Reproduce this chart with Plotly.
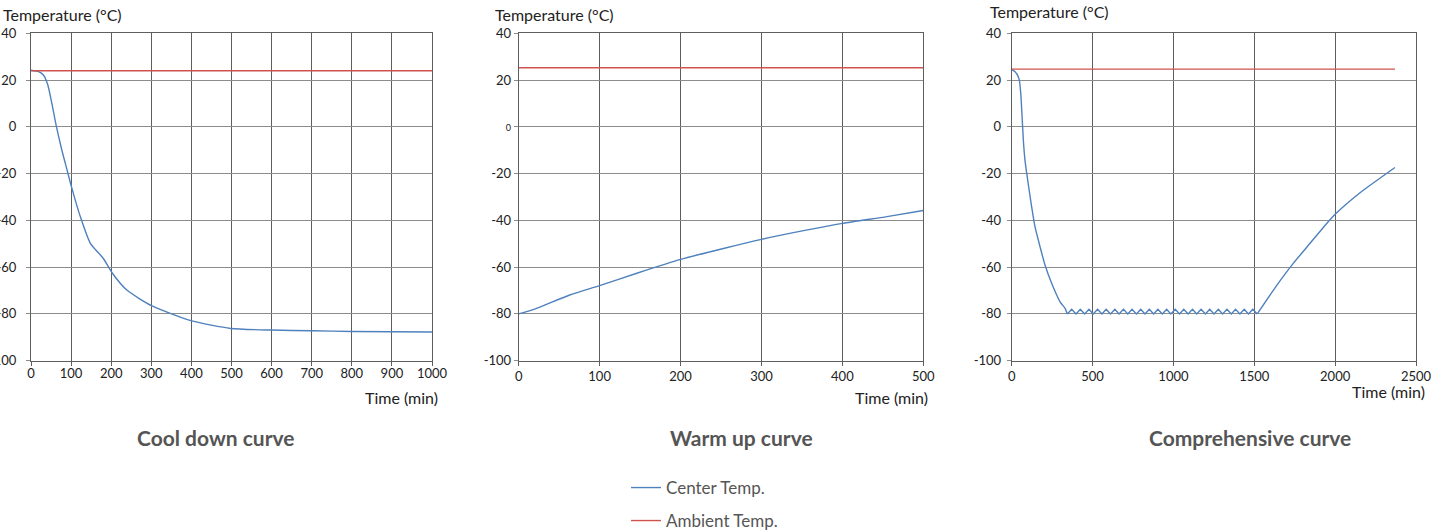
import plotly.graph_objects as go

W, H = 1431, 532

# ---------------- data ----------------
cool_time = [0, 19, 31, 42, 52, 63, 77, 90, 102, 123, 148, 180, 203, 239, 302, 401, 498, 600, 700, 800, 1000]
cool_center = [24.2, 23.6, 22.2, 17.9, 10, 0.4, -10, -18.5, -26.3, -38.4, -49.8, -56.2, -62.6, -69.8, -76.6, -83, -86.2, -86.9, -87.2, -87.5, -87.7]
cool_amb_time = [0, 1000]
cool_amb = [24, 24]

warm_time = [0, 22, 63, 100, 146, 200, 253, 300, 352, 400, 455, 500]
warm_center = [-80, -77.6, -71.9, -67.9, -62.6, -56.7, -52, -48.1, -44.4, -41.3, -38.4, -35.8]
warm_amb_time = [0, 500]
warm_amb = [25.3, 25.3]

comp_down_time = [0, 21, 35, 47, 56, 62, 72, 82, 93, 117, 144, 175, 206, 247, 299, 330, 344]
comp_down_center = [24.5, 23.6, 22.2, 20, 14.3, 7.2, -5.6, -14.2, -19.9, -31.3, -42.7, -51.2, -59.1, -66.9, -74.8, -77.6, -80]
comp_hold_time = [344, 371, 398, 424, 451, 478, 504, 531, 558, 584, 611, 638, 664, 691, 718, 744,
                  771, 798, 824, 851, 878, 904, 931, 958, 984, 1011, 1038, 1064, 1091, 1118, 1144,
                  1171, 1198, 1224, 1251, 1278, 1304, 1331, 1358, 1384, 1411, 1438, 1464, 1491, 1518]
comp_hold_center = [-80, -78, -80, -78, -80, -78, -80, -78, -80, -78, -80, -78, -80, -78, -80, -78,
                    -80, -78, -80, -78, -80, -78, -80, -78, -80, -78, -80, -78, -80, -78, -80,
                    -78, -80, -78, -80, -78, -80, -78, -80, -78, -80, -78, -80, -78, -80]
comp_up_time = [1518, 1638, 1741, 1845, 1948, 2000, 2154, 2370]
comp_up_center = [-80, -67.9, -58.4, -49.8, -41.3, -37.4, -28.2, -17.4]
comp_amb_time = [0, 2370]
comp_amb = [24.7, 24.7]

y_ticks = [40, 20, 0, -20, -40, -60, -80, -100]
y_ticktext = ["40", "20", "0", "-20", "-40", "-60", "-80", "-100"]
y_ticktext2 = ["40", "20", "<span style='font-size:9px'>0</span>", "-20", "-40", "-60", "-80", "-100"]

x1_ticks = [0, 100, 200, 300, 400, 500, 600, 700, 800, 900, 1000]
x2_ticks = [0, 100, 200, 300, 400, 500]
x3_ticks = [0, 500, 1000, 1500, 2000, 2500]

titles = ["Cool down curve", "Warm up curve", "Comprehensive curve"]
y_title = "Temperature (°C)"
x_title = "Time (min)"
legend_names = ["Center Temp.", "Ambient Temp."]

BLUE = "#4f81bd"
RED = "#d0524e"
FONT = "Lato, 'Open Sans', sans-serif"


def fx(p):
    return p / W


def fy(p):
    return 1 - p / H


fig = go.Figure()

center_sets = [
    (cool_time, cool_center, "x", "y", "spline"),
    (warm_time, warm_center, "x2", "y2", "spline"),
    (comp_down_time, comp_down_center, "x3", "y3", "spline"),
    (comp_hold_time, comp_hold_center, "x3", "y3", "linear"),
    (comp_up_time, comp_up_center, "x3", "y3", "spline"),
]
for i, (t, c, xa, ya, shp) in enumerate(center_sets):
    fig.add_trace(go.Scatter(x=t, y=c, mode="lines",
                             line=dict(color=BLUE, width=1.4, shape=shp, smoothing=0.6),
                             name=legend_names[0], legendgroup="center", legend="legend",
                             xaxis=xa, yaxis=ya, showlegend=(i == 0)))
amb_sets = [
    (cool_amb_time, cool_amb, "x", "y"),
    (warm_amb_time, warm_amb, "x2", "y2"),
    (comp_amb_time, comp_amb, "x3", "y3"),
]
for i, (t, a, xa, ya) in enumerate(amb_sets):
    fig.add_trace(go.Scatter(x=t, y=a, mode="lines", line=dict(color=RED, width=1.4),
                             name=legend_names[1], legendgroup="amb", legend="legend2",
                             xaxis=xa, yaxis=ya, showlegend=(i == 0)))

domains = [(31, 432), (518.7, 923.3), (1011.7, 1416)]
ydom = [fy(360.7), fy(33.3)]

xgrid = "#5e5e5e"
ygrid = "#8c8c8c"

leg_common = dict(xanchor="left", yanchor="middle", font=dict(size=17, color="#555"),
                  bgcolor="rgba(0,0,0,0)", borderwidth=0)
layout = dict(
    width=W, height=H,
    margin=dict(l=0, r=0, t=0, b=0, autoexpand=False),
    paper_bgcolor="white", plot_bgcolor="white",
    font=dict(family=FONT, color="#222", size=13),
    showlegend=True,
    legend=dict(x=fx(626), y=fy(488), **leg_common),
    legend2=dict(x=fx(626), y=fy(521), **leg_common),
)

xticks_all = [x1_ticks, x2_ticks, x3_ticks]
xranges = [[0, 1000], [0, 500], [0, 2500]]
ystand = [7, 0, 3]
xstand = [-3, 0, 0]
for i in range(3):
    sfx = "" if i == 0 else str(i + 1)
    layout["xaxis" + sfx] = dict(
        domain=[fx(domains[i][0]), fx(domains[i][1])], range=xranges[i], automargin=False,
        anchor="y" + sfx, tickvals=xticks_all[i], showgrid=True, gridcolor=xgrid, gridwidth=1,
        showline=True, linecolor=xgrid, linewidth=1, mirror=True, zeroline=False,
        ticks="outside", ticklen=4, tickcolor=xgrid, ticklabelstandoff=xstand[i],
        ticklabeloverflow="allow",
        tickfont=dict(size=13, color="#222"), fixedrange=True,
    )
    layout["yaxis" + sfx] = dict(
        domain=ydom, range=[-100, 40], anchor="x" + sfx, automargin=False,
        tickvals=y_ticks, ticktext=(y_ticktext2 if i == 1 else y_ticktext),
        showgrid=True, gridcolor=ygrid, gridwidth=1.2,
        showline=True, linecolor=xgrid, linewidth=1, mirror=True, zeroline=False,
        ticks="outside", ticklen=4, tickcolor=ygrid, ticklabelstandoff=ystand[i],
        ticklabeloverflow="allow",
        tickfont=dict(size=13, color="#222"), fixedrange=True,
    )
fig.update_layout(**layout)

# axis titles
ytitle_pos = [(1, 14.5), (493, 14.5), (988, 11.5)]
for (px, py) in ytitle_pos:
    fig.add_annotation(text=y_title, xref="paper", yref="paper", x=fx(px), y=fy(py),
                       xanchor="left", yanchor="middle", showarrow=False,
                       font=dict(size=16, color="#222"))
xtitle_pos = [(440, 397), (930, 397), (1427, 391)]
for (px, py) in xtitle_pos:
    fig.add_annotation(text=x_title, xref="paper", yref="paper", x=fx(px), y=fy(py),
                       xanchor="right", yanchor="middle", showarrow=False,
                       font=dict(size=16, color="#222"))

title_pos = [216, 741, 1250]
for txt, px in zip(titles, title_pos):
    fig.add_annotation(text="<b>" + txt + "</b>", xref="paper", yref="paper", x=fx(px), y=fy(437),
                       xanchor="center", yanchor="middle", showarrow=False,
                       font=dict(size=21, color="#555"))

fig.write_html("out.html", config={"displayModeBar": False},
               post_script="document.body.style.margin='0';document.body.style.overflow='hidden';")
